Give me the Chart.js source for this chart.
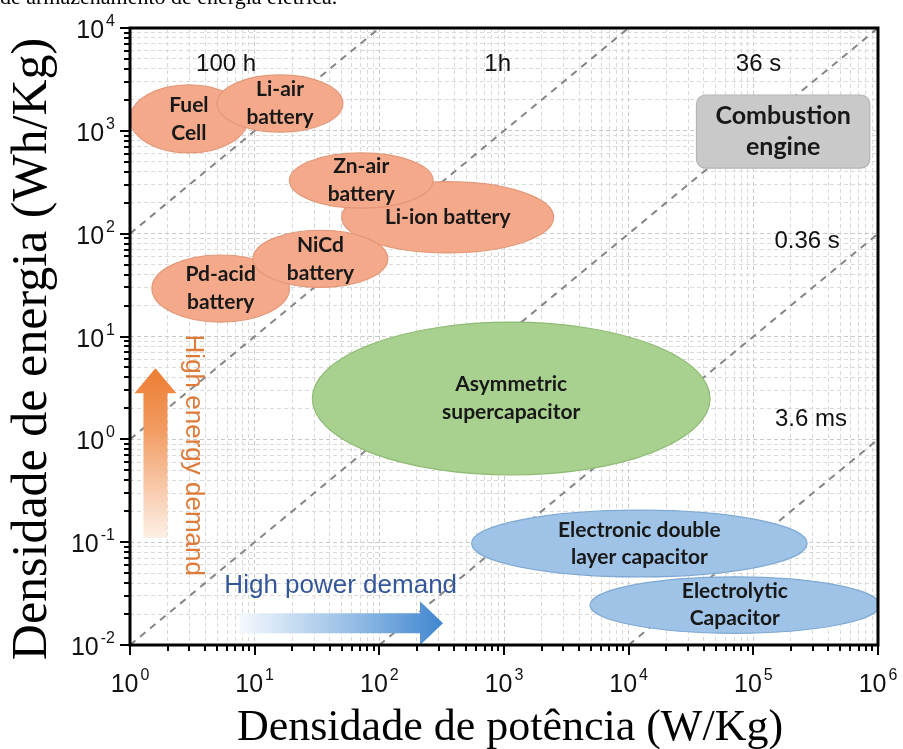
<!DOCTYPE html>
<html>
<head>
<meta charset="utf-8">
<script src="https://cdn.jsdelivr.net/npm/chart.js@4.4.1/dist/chart.umd.min.js"></script>
<style>
  html, body { margin: 0; padding: 0; background: #fff; }
  #wrap { position: relative; width: 903px; height: 749px; overflow: hidden; }
</style>
</head>
<body>
<div id="wrap"><canvas id="ragone" width="903" height="749"></canvas></div>
<script>
// discharge-time guide lines, endpoints as (W/kg, Wh/kg)
const timeLabels = ['100 h', '1h', '36 s', '0.36 s', '3.6 ms'];
const lineStartX = [1, 1, 1, 100, 1e4];
const lineStartY = [100, 1, 0.01, 0.01, 0.01];
const lineEndX = [100, 1e4, 1e6, 1e6, 1e6];
const lineEndY = [1e4, 1e4, 1e4, 100, 1];
const timeLabelX = [5.9, 890, 1.1e5, 2.7e5, 2.9e5];
const timeLabelY = [4470, 4470, 4470, 85, 1.57];

// technology regions (power W/kg, energy Wh/kg), drawn in this order
const regionLines = [
  ['Fuel', 'Cell'],
  ['Li-air', 'battery'],
  ['Li-ion battery'],
  ['Zn-air', 'battery'],
  ['Pd-acid', 'battery'],
  ['NiCd', 'battery'],
  ['Asymmetric', 'supercapacitor'],
  ['Electronic double', 'layer capacitor'],
  ['Electrolytic', 'Capacitor'],
  ['Combustion', 'engine']
];
const powerMin = [1, 5, 50, 19, 1.5, 9.7, 29, 550, 4900, 35000];
const powerMax = [8.8, 51, 2500, 270, 19, 117, 45000, 2.7e5, 1.03e6, 8.6e5];
const energyMin = [610, 970, 65, 177, 13.8, 30, 0.45, 0.046, 0.013, 434];
const energyMax = [2800, 3500, 320, 610, 62, 108, 13.8, 0.205, 0.046, 2230];
const regionKind = ['bat', 'bat', 'bat', 'bat', 'bat', 'bat', 'sup', 'cap', 'cap', 'eng'];

// demand arrows
const energyArrow = { x: 1.6, tip: 4.9, headBase: 2.8, tail: 0.11, textX: 3.2, textY: 0.7 };
const powerArrow = { y: 0.0163, tail: 7.6, headBase: 212, tip: 324, textX: 49, textY: 0.038 };

const fills = { bat: '#f3a98a', sup: '#a8d08e', cap: '#9ec3e6', eng: '#c9c9c9' };
const edges = { bat: '#e39778', sup: '#8fbb74', cap: '#7fa9d3', eng: '#b5b5b5' };
const labelFont = { bat: 'bold 21px Lato', sup: 'bold 21px Lato', cap: 'bold 21px Lato', eng: 'bold 25px Lato' };
const labelGap = { bat: 28, sup: 28, cap: 27, eng: 31 };

function isDecade(v) {
  const l = Math.log10(v);
  return Math.abs(l - Math.round(l)) < 1e-9;
}

function logTicks(lo, hi) {
  const t = [];
  for (let e = lo; e < hi; e++) {
    for (let m = 1; m < 10; m++) t.push({ value: m * Math.pow(10, e) });
  }
  t.push({ value: Math.pow(10, hi) });
  return t;
}

const lineSets = timeLabels.map((lab, i) => ({
  label: lab,
  data: [{ x: lineStartX[i], y: lineStartY[i] }, { x: lineEndX[i], y: lineEndY[i] }],
  borderColor: '#858585',
  borderWidth: 2,
  borderDash: [7, 6],
  pointRadius: 0,
  fill: false
}));

const regions = {
  id: 'regions',
  afterDatasetsDraw(chart) {
    const { ctx, chartArea: a, scales: { x, y } } = chart;
    ctx.save();
    ctx.beginPath();
    ctx.rect(a.left, a.top, a.right - a.left, a.bottom - a.top);
    ctx.clip();

    regionLines.forEach((lines, i) => {
      const x1 = x.getPixelForValue(powerMin[i]);
      const x2 = x.getPixelForValue(powerMax[i]);
      const y1 = y.getPixelForValue(energyMax[i]);
      const y2 = y.getPixelForValue(energyMin[i]);
      const cx = (x1 + x2) / 2, cy = (y1 + y2) / 2;
      const k = regionKind[i];
      ctx.beginPath();
      if (k === 'eng') {
        ctx.roundRect(x1, y1, x2 - x1, y2 - y1, 9);
      } else {
        ctx.ellipse(cx, cy, (x2 - x1) / 2, (y2 - y1) / 2, 0, 0, Math.PI * 2);
      }
      ctx.fillStyle = fills[k];
      ctx.fill();
      ctx.lineWidth = 1.2;
      ctx.strokeStyle = edges[k];
      ctx.stroke();

      ctx.fillStyle = '#181818';
      ctx.font = labelFont[k];
      ctx.textAlign = 'center';
      ctx.textBaseline = 'middle';
      lines.forEach((t, j) => {
        ctx.fillText(t, cx, cy + (j - (lines.length - 1) / 2) * labelGap[k]);
      });
    });

    // orange arrow (energy)
    const ax = x.getPixelForValue(energyArrow.x);
    const aTip = y.getPixelForValue(energyArrow.tip);
    const aBase = y.getPixelForValue(energyArrow.headBase);
    const aTail = y.getPixelForValue(energyArrow.tail);
    let g = ctx.createLinearGradient(0, aTip, 0, aTail);
    g.addColorStop(0, '#ed7d31');
    g.addColorStop(0.35, '#f19a60');
    g.addColorStop(1, '#fdf0e6');
    ctx.fillStyle = g;
    ctx.beginPath();
    ctx.moveTo(ax, aTip);
    ctx.lineTo(ax + 21, aBase);
    ctx.lineTo(ax + 12, aBase);
    ctx.lineTo(ax + 12, aTail);
    ctx.lineTo(ax - 12, aTail);
    ctx.lineTo(ax - 12, aBase);
    ctx.lineTo(ax - 21, aBase);
    ctx.closePath();
    ctx.fill();

    // blue arrow (power)
    const by = y.getPixelForValue(powerArrow.y);
    const bTail = x.getPixelForValue(powerArrow.tail);
    const bBase = x.getPixelForValue(powerArrow.headBase);
    const bTip = x.getPixelForValue(powerArrow.tip);
    g = ctx.createLinearGradient(bTail, 0, bTip, 0);
    g.addColorStop(0, '#f4f8fd');
    g.addColorStop(0.6, '#8db8e3');
    g.addColorStop(1, '#3f86cf');
    ctx.fillStyle = g;
    ctx.beginPath();
    ctx.moveTo(bTip, by);
    ctx.lineTo(bBase, by - 22);
    ctx.lineTo(bBase, by - 10);
    ctx.lineTo(bTail, by - 10);
    ctx.lineTo(bTail, by + 10);
    ctx.lineTo(bBase, by + 10);
    ctx.lineTo(bBase, by + 22);
    ctx.closePath();
    ctx.fill();

    ctx.font = '26px "Liberation Sans", Arial';
    ctx.textAlign = 'center';
    ctx.textBaseline = 'middle';
    ctx.fillStyle = '#34569a';
    ctx.fillText('High power demand', x.getPixelForValue(powerArrow.textX), y.getPixelForValue(powerArrow.textY));

    ctx.save();
    ctx.translate(x.getPixelForValue(energyArrow.textX), y.getPixelForValue(energyArrow.textY));
    ctx.rotate(Math.PI / 2);
    ctx.fillStyle = '#df7b3a';
    ctx.fillText('High energy demand', 0, 0);
    ctx.restore();

    // time labels
    ctx.fillStyle = '#111';
    ctx.font = '24px "Liberation Sans", Arial';
    timeLabels.forEach((t, i) => {
      ctx.fillText(t, x.getPixelForValue(timeLabelX[i]), y.getPixelForValue(timeLabelY[i]));
    });
    ctx.restore();
  }
};

const frame = {
  id: 'frame',
  afterDraw(chart) {
    const { ctx, chartArea: a, scales: { x, y } } = chart;
    ctx.save();
    ctx.strokeStyle = '#000';
    ctx.lineWidth = 2;
    x.ticks.forEach(t => {
      const px = Math.round(x.getPixelForValue(t.value));
      const len = isDecade(t.value) ? 10 : 6;
      ctx.beginPath();
      ctx.moveTo(px, a.bottom);
      ctx.lineTo(px, a.bottom + len);
      ctx.stroke();
    });
    y.ticks.forEach(t => {
      const py = Math.round(y.getPixelForValue(t.value));
      const len = isDecade(t.value) ? 10 : 6;
      ctx.beginPath();
      ctx.moveTo(a.left, py);
      ctx.lineTo(a.left - len, py);
      ctx.stroke();
    });
    ctx.lineWidth = 3;
    ctx.strokeRect(a.left, a.top, a.right - a.left, a.bottom - a.top);

    // power-of-ten tick labels
    ctx.fillStyle = '#111';
    ctx.textBaseline = 'alphabetic';
    ctx.textAlign = 'left';
    const big = '25px "Liberation Sans", Arial';
    const small = '16px "Liberation Sans", Arial';
    x.ticks.filter(t => isDecade(t.value)).forEach(t => {
      const e = String(Math.round(Math.log10(t.value)));
      ctx.font = big; const w1 = ctx.measureText('10').width;
      ctx.font = small; const w2 = ctx.measureText(e).width;
      const x0 = x.getPixelForValue(t.value) - (w1 + 2 + w2) / 2;
      ctx.font = big; ctx.fillText('10', x0, a.bottom + 47);
      ctx.font = small; ctx.fillText(e, x0 + w1 + 2, a.bottom + 35);
    });
    y.ticks.filter(t => isDecade(t.value)).forEach(t => {
      const e = String(Math.round(Math.log10(t.value)));
      const py = y.getPixelForValue(t.value);
      ctx.font = big; const w1 = ctx.measureText('10').width;
      ctx.font = small; const w2 = ctx.measureText(e).width;
      const x0 = a.left - 15 - w2 - 2 - w1;
      ctx.font = big; ctx.fillText('10', x0, py + 10);
      ctx.font = small; ctx.fillText(e, x0 + w1 + 2, py - 2);
    });

    // axis titles
    ctx.fillStyle = '#000';
    ctx.textAlign = 'center';
    ctx.font = '44px "Liberation Serif", "Times New Roman", serif';
    ctx.fillText('Densidade de potência (W/Kg)', 510, 740);
    ctx.save();
    ctx.translate(46, 349);
    ctx.rotate(-Math.PI / 2);
    ctx.font = '50px "Liberation Serif", "Times New Roman", serif';
    ctx.fillText('Densidade de energia (Wh/Kg)', 0, 0);
    ctx.restore();

    // cut-off line of the surrounding document
    ctx.textAlign = 'left';
    ctx.font = '22px "Liberation Serif", "Times New Roman", serif';
    ctx.fillText('de armazenamento de energia elétrica.', 0, 4);
    ctx.restore();
  }
};

const gridColor = c => (c.tick && isDecade(c.tick.value) ? '#c9c9c9' : '#dadada');

new Chart(document.getElementById('ragone'), {
  type: 'line',
  data: { datasets: lineSets },
  options: {
    responsive: false,
    animation: false,
    devicePixelRatio: 1,
    layout: { padding: { top: 28, right: 25, left: 0, bottom: 0 } },
    plugins: { legend: { display: false }, tooltip: { enabled: false } },
    scales: {
      x: {
        type: 'logarithmic',
        min: 1,
        max: 1e6,
        afterBuildTicks: s => { s.ticks = logTicks(0, 6); },
        afterFit: s => { s.height = 104; },
        ticks: { display: false, autoSkip: false },
        grid: { color: gridColor, lineWidth: 1, drawTicks: false },
        border: { display: false, dash: [4, 3] }
      },
      y: {
        type: 'logarithmic',
        min: 0.01,
        max: 1e4,
        afterBuildTicks: s => { s.ticks = logTicks(-2, 4); },
        afterFit: s => { s.width = 130; },
        ticks: { display: false, autoSkip: false },
        grid: { color: gridColor, lineWidth: 1, drawTicks: false },
        border: { display: false, dash: [4, 3] }
      }
    }
  },
  plugins: [regions, frame]
});
</script>
</body>
</html>
